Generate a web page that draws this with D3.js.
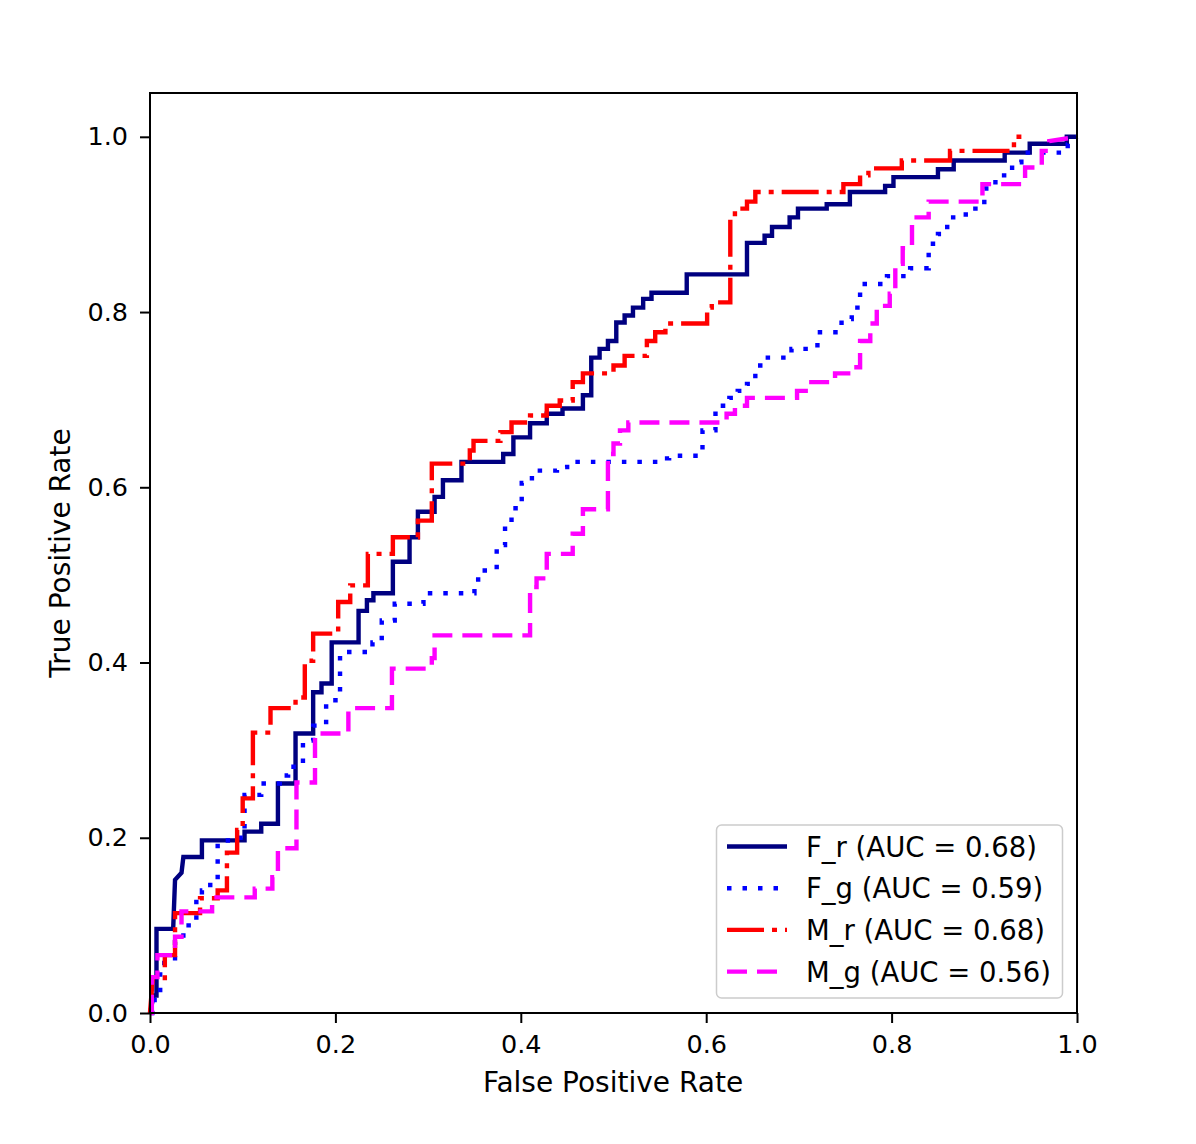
<!DOCTYPE html>
<html>
<head>
<meta charset="utf-8">
<script src="https://cdn.jsdelivr.net/npm/d3@7"></script>
<style>
  body { margin: 0; background: #fff; }
  text { font-family: "DejaVu Sans", sans-serif; }
</style>
</head>
<body>
<svg id="chart" width="1196" height="1144"></svg>
<script>
// ROC curves (fpr, tpr corner points)
const frFpr = [0,0.004,0.007,0.007,0.025,0.027,0.034,0.036,0.056,0.056,0.102,0.102,0.12,0.12,0.138,0.138,0.157,0.157,0.176,0.176,0.185,0.185,0.196,0.196,0.225,0.225,0.234,0.234,0.241,0.241,0.262,0.262,0.28,0.28,0.289,0.289,0.298,0.298,0.307,0.307,0.316,0.316,0.336,0.336,0.381,0.381,0.392,0.392,0.41,0.41,0.428,0.428,0.445,0.445,0.467,0.467,0.476,0.476,0.485,0.485,0.494,0.494,0.503,0.503,0.512,0.512,0.521,0.521,0.532,0.532,0.541,0.541,0.579,0.579,0.644,0.644,0.663,0.663,0.671,0.671,0.69,0.69,0.699,0.699,0.73,0.73,0.755,0.755,0.793,0.793,0.802,0.802,0.85,0.85,0.867,0.867,0.922,0.922,0.949,0.949,0.989,0.989,1]
const frTpr = [0,0.02,0.02,0.096,0.096,0.152,0.16,0.178,0.178,0.197,0.197,0.207,0.207,0.216,0.216,0.262,0.262,0.319,0.319,0.366,0.366,0.376,0.376,0.423,0.423,0.459,0.459,0.471,0.471,0.479,0.479,0.515,0.515,0.543,0.543,0.572,0.572,0.572,0.572,0.589,0.589,0.608,0.608,0.629,0.629,0.638,0.638,0.657,0.657,0.673,0.673,0.684,0.684,0.69,0.69,0.705,0.705,0.748,0.748,0.758,0.758,0.767,0.767,0.788,0.788,0.796,0.796,0.805,0.805,0.815,0.815,0.822,0.822,0.843,0.843,0.879,0.879,0.887,0.887,0.897,0.897,0.908,0.908,0.918,0.918,0.923,0.923,0.937,0.937,0.944,0.944,0.954,0.954,0.963,0.963,0.973,0.973,0.982,0.982,0.992,0.992,1,1]

const fgFpr = [0,0.005,0.005,0.011,0.011,0.027,0.027,0.036,0.036,0.05,0.05,0.056,0.056,0.065,0.065,0.073,0.073,0.084,0.084,0.102,0.102,0.12,0.12,0.14,0.14,0.149,0.149,0.165,0.165,0.176,0.176,0.19,0.19,0.205,0.205,0.24,0.24,0.25,0.25,0.264,0.264,0.295,0.295,0.35,0.35,0.354,0.354,0.374,0.374,0.383,0.383,0.39,0.39,0.401,0.401,0.412,0.412,0.439,0.439,0.45,0.45,0.55,0.55,0.56,0.56,0.596,0.596,0.61,0.61,0.618,0.618,0.625,0.625,0.634,0.634,0.644,0.644,0.653,0.653,0.663,0.663,0.692,0.692,0.72,0.72,0.746,0.746,0.757,0.757,0.766,0.766,0.795,0.795,0.82,0.82,0.84,0.84,0.85,0.85,0.86,0.86,0.88,0.88,0.9,0.9,0.912,0.912,0.93,0.93,0.94,0.94,0.99,0.99,1]
const fgTpr = [0,0,0.02,0.02,0.057,0.057,0.081,0.081,0.1,0.1,0.131,0.131,0.14,0.14,0.152,0.152,0.194,0.194,0.2,0.2,0.249,0.249,0.262,0.262,0.271,0.271,0.281,0.281,0.311,0.311,0.328,0.328,0.357,0.357,0.412,0.412,0.423,0.423,0.448,0.448,0.467,0.467,0.479,0.479,0.488,0.488,0.505,0.505,0.534,0.534,0.559,0.559,0.576,0.576,0.605,0.605,0.619,0.619,0.623,0.623,0.629,0.629,0.633,0.633,0.636,0.636,0.665,0.665,0.684,0.684,0.693,0.693,0.702,0.702,0.71,0.71,0.718,0.718,0.739,0.739,0.748,0.748,0.758,0.758,0.777,0.777,0.792,0.792,0.805,0.805,0.832,0.832,0.841,0.841,0.85,0.85,0.878,0.878,0.889,0.889,0.908,0.908,0.918,0.918,0.941,0.941,0.956,0.956,0.971,0.971,0.982,0.982,0.992,1]

const mrFpr = [0,0.003,0.016,0.016,0.027,0.027,0.054,0.054,0.073,0.073,0.083,0.083,0.094,0.094,0.1,0.1,0.111,0.111,0.13,0.13,0.157,0.157,0.167,0.167,0.176,0.176,0.203,0.203,0.216,0.216,0.235,0.235,0.262,0.262,0.289,0.289,0.304,0.304,0.345,0.345,0.349,0.349,0.378,0.378,0.39,0.39,0.41,0.41,0.428,0.428,0.442,0.442,0.456,0.456,0.467,0.467,0.5,0.5,0.512,0.512,0.536,0.536,0.545,0.545,0.556,0.556,0.601,0.601,0.606,0.606,0.626,0.626,0.631,0.631,0.644,0.644,0.653,0.653,0.748,0.748,0.766,0.766,0.775,0.775,0.811,0.811,0.863,0.863,0.932,0.932,0.94,0.94,1]
const mrTpr = [0,0.04,0.04,0.066,0.066,0.114,0.114,0.131,0.131,0.14,0.14,0.183,0.183,0.209,0.209,0.245,0.245,0.32,0.32,0.348,0.348,0.36,0.36,0.402,0.402,0.433,0.433,0.469,0.469,0.488,0.488,0.524,0.524,0.543,0.543,0.562,0.562,0.627,0.627,0.642,0.642,0.653,0.653,0.663,0.663,0.674,0.674,0.682,0.682,0.693,0.693,0.699,0.699,0.72,0.72,0.73,0.73,0.739,0.739,0.75,0.75,0.767,0.767,0.777,0.777,0.787,0.787,0.805,0.805,0.811,0.811,0.908,0.908,0.918,0.918,0.926,0.926,0.937,0.937,0.946,0.946,0.956,0.956,0.964,0.964,0.973,0.973,0.984,0.984,1,1]

const mgFpr = [0,0.002,0.002,0.008,0.008,0.027,0.027,0.034,0.034,0.067,0.067,0.113,0.113,0.132,0.132,0.138,0.138,0.158,0.158,0.178,0.178,0.214,0.214,0.261,0.261,0.295,0.295,0.304,0.304,0.307,0.307,0.41,0.41,0.417,0.417,0.428,0.428,0.456,0.456,0.467,0.467,0.494,0.494,0.5,0.5,0.507,0.507,0.516,0.516,0.622,0.622,0.631,0.631,0.644,0.644,0.698,0.698,0.71,0.71,0.739,0.739,0.757,0.757,0.766,0.766,0.777,0.777,0.784,0.784,0.798,0.798,0.804,0.804,0.812,0.812,0.822,0.822,0.84,0.84,0.898,0.898,0.944,0.944,0.962,0.962,0.97,0.97,1]
const mgTpr = [0,0,0.041,0.041,0.066,0.066,0.087,0.087,0.116,0.116,0.132,0.132,0.142,0.142,0.155,0.155,0.188,0.188,0.263,0.263,0.319,0.319,0.348,0.348,0.393,0.393,0.397,0.397,0.405,0.405,0.431,0.431,0.486,0.486,0.496,0.496,0.524,0.524,0.547,0.547,0.575,0.575,0.638,0.638,0.65,0.65,0.665,0.665,0.674,0.674,0.684,0.684,0.693,0.693,0.702,0.702,0.71,0.71,0.72,0.72,0.73,0.73,0.737,0.737,0.767,0.767,0.787,0.787,0.807,0.807,0.821,0.821,0.855,0.855,0.873,0.873,0.908,0.908,0.926,0.926,0.946,0.946,0.965,0.965,0.984,0.984,0.995,1]

const names = ['F_r', 'F_g', 'M_r', 'M_g']
const aucs = ['0.68', '0.59', '0.68', '0.56']
const tickValues = [0, 0.2, 0.4, 0.6, 0.8, 1.0]

const colors = ['#000080', '#0000ff', '#ff0000', '#ff00ff']
const dashes = [null, '4.5,11', '37,8,5,8', '20,10']

const series = [
  d3.zip(frFpr, frTpr),
  d3.zip(fgFpr, fgTpr),
  d3.zip(mrFpr, mrTpr),
  d3.zip(mgFpr, mgTpr)
]

const plotLeft = 150, plotRight = 1077, plotTop = 93, plotBottom = 1013

const svg = d3.select('#chart')

//escalas
const x = d3.scaleLinear().domain([0, 1]).range([plotLeft, plotRight])
const y = d3.scaleLinear().domain([0, 1.05]).range([plotBottom, plotTop])

const line = d3.line().x(d => x(d[0])).y(d => y(d[1]))

//curvas
const plot = svg.append('g')
series.forEach((s, i) => {
  plot.append('path')
    .datum(s)
    .attr('d', line)
    .attr('fill', 'none')
    .attr('stroke', colors[i])
    .attr('stroke-width', 4.4)
    .attr('stroke-dasharray', dashes[i])
})

//marco
svg.append('rect')
  .attr('x', plotLeft).attr('y', plotTop)
  .attr('width', plotRight - plotLeft).attr('height', plotBottom - plotTop)
  .attr('fill', 'none').attr('stroke', '#000').attr('stroke-width', 2)

//eje x
const xAxis = d3.axisBottom(x).tickValues(tickValues).tickFormat(d3.format('.1f'))
  .tickSize(10).tickPadding(12)
const gx = svg.append('g')
  .attr('transform', `translate(0, ${plotBottom})`)
  .call(xAxis)
gx.select('.domain').remove()
gx.selectAll('line').attr('stroke-width', 2)
gx.selectAll('text').attr('font-size', '25.5px').attr('fill', '#000')

//eje y
const yAxis = d3.axisLeft(y).tickValues(tickValues).tickFormat(d3.format('.1f'))
  .tickSize(10).tickPadding(12)
const gy = svg.append('g')
  .attr('transform', `translate(${plotLeft}, 0)`)
  .call(yAxis)
gy.select('.domain').remove()
gy.selectAll('line').attr('stroke-width', 2)
gy.selectAll('text').attr('font-size', '25.5px').attr('fill', '#000')

svg.append('text')
  .text('False Positive Rate')
  .attr('x', 613)
  .attr('y', 1092)
  .attr('font-size', '28px')
  .attr('text-anchor', 'middle')

svg.append('text')
  .text('True Positive Rate')
  .attr('transform', `translate(70, 553) rotate(-90)`)
  .attr('font-size', '28px')
  .attr('text-anchor', 'middle')

//leyenda
const legend = svg.append('g')
legend.append('rect')
  .attr('x', 716.5).attr('y', 825)
  .attr('width', 346).attr('height', 173)
  .attr('rx', 5)
  .attr('fill', '#fff').attr('fill-opacity', 0.8)
  .attr('stroke', '#ccc').attr('stroke-width', 1.5)

names.forEach((n, i) => {
  const ly = 846.5 + i * 41.7
  legend.append('line')
    .attr('x1', 727).attr('x2', 787)
    .attr('y1', ly).attr('y2', ly)
    .attr('stroke', colors[i])
    .attr('stroke-width', 4.4)
    .attr('stroke-dasharray', dashes[i])
  legend.append('text')
    .text(`${n} (AUC = ${aucs[i]})`)
    .attr('x', 806)
    .attr('y', ly + 10)
    .attr('font-size', '27.5px')
})
</script>
</body>
</html>
